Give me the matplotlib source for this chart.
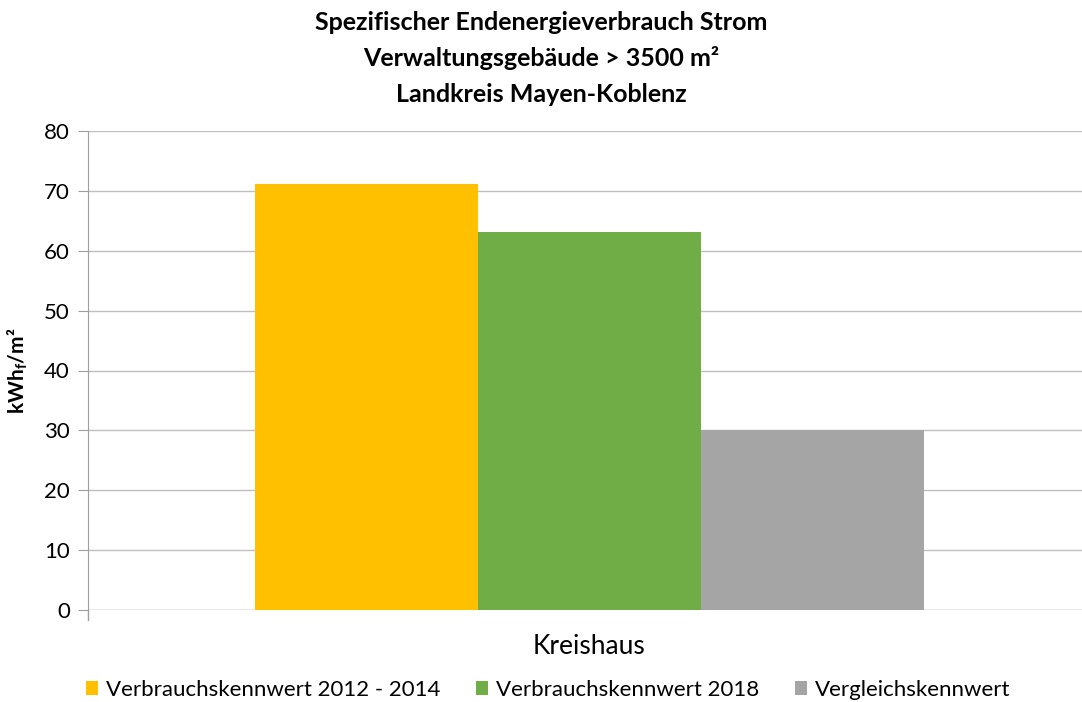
import matplotlib
matplotlib.use("Agg")
import matplotlib.pyplot as plt
import numpy as np

plt.rcParams['font.family'] = ['Lato', 'DejaVu Sans']
plt.rcParams['mathtext.fontset'] = 'custom'
plt.rcParams['mathtext.rm'] = 'Lato'
plt.rcParams['mathtext.bf'] = 'Lato:bold'

category = ["Kreishaus"]
series_names = ["Verbrauchskennwert 2012 - 2014", "Verbrauchskennwert 2018", "Vergleichskennwert"]
values = [71.2, 63.2, 30.0]
colors = ["#FFC000", "#70AD47", "#A5A5A5"]
yticks = [0, 10, 20, 30, 40, 50, 60, 70, 80]

fig = plt.figure(figsize=(10.82, 7.02), dpi=100)
ax = fig.add_axes([88/1082, 1 - 610/702, (1091-88)/1082, (610-131)/702])

x = np.arange(len(category))
group_w = 0.667
bw = group_w / len(values)
for i, (name, v, c) in enumerate(zip(series_names, values, colors)):
    ax.bar(x - group_w/2 + bw*(i+0.5), [v], width=bw, color=c, label=name, zorder=3)

ax.set_xlim(-0.5, 0.5)
ax.set_ylim(0, 80)
ax.set_yticks(yticks)
ax.tick_params(axis='y', labelsize=16, color='#9E9E9E', length=7, direction='out', pad=6)
ax.set_xticks([])
ax.grid(axis='y', color='#BFBFBF', linewidth=1, zorder=0)
for s in ['top', 'right', 'bottom']:
    ax.spines[s].set_visible(False)
ax.spines['left'].set_color('#9E9E9E')
ax.axhline(0, color='#BFBFBF', linewidth=1, zorder=1)
ax.plot([0, 0], [0, -0.02], transform=ax.transAxes, clip_on=False, color='#9E9E9E', lw=1)
ax.set_ylabel(r"kWh$_{\mathbf{f}}$/m²", fontsize=15, fontweight='bold', labelpad=10)

fig.text(589/1082, 1 - 647/702, category[0], ha='center', va='center', fontsize=19)

fig.text(0.5, 1 - 22/702, "Spezifischer Endenergieverbrauch Strom", ha='center', va='center',
         fontsize=18, fontweight='bold')
fig.text(0.5, 1 - 58/702, "Verwaltungsgebäude > 3500 m²", ha='center', va='center',
         fontsize=18, fontweight='bold')
fig.text(0.5, 1 - 94/702, "Landkreis Mayen-Koblenz", ha='center', va='center',
         fontsize=18, fontweight='bold')

leg = fig.legend(loc='center left', bbox_to_anchor=(86/1082, 1 - 690/702), ncol=3, frameon=False,
                 fontsize=16, handlelength=0.55, handleheight=0.55, handletextpad=0.35,
                 columnspacing=1.6, borderpad=0, borderaxespad=0)

fig.savefig("out.png", dpi=100, facecolor='white')
